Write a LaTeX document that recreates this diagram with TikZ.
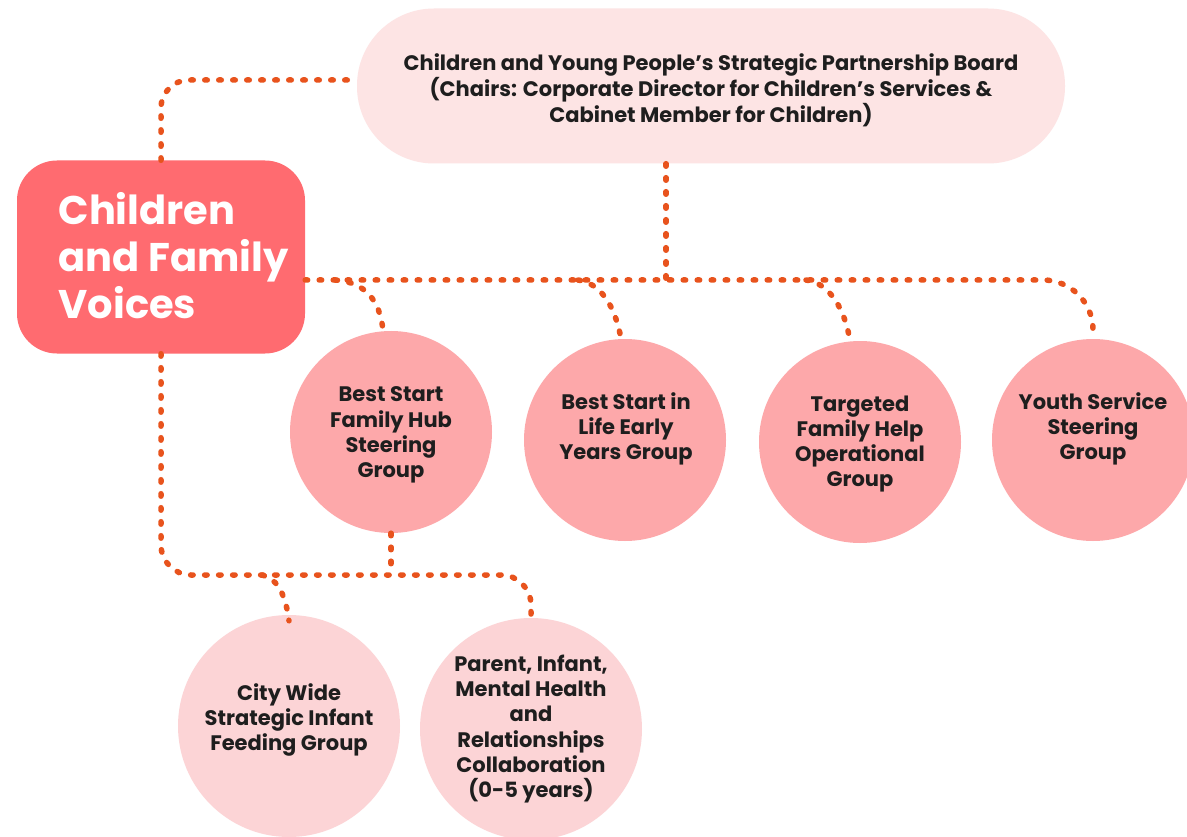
\documentclass[tikz,border=0pt]{standalone}
\usepackage{fontspec}
\setmainfont{Poppins}
\definecolor{boardpink}{HTML}{FDE4E4}
\definecolor{voicered}{HTML}{FF6B70}
\definecolor{midpink}{HTML}{FDA8AA}
\definecolor{lowpink}{HTML}{FCD4D6}
\definecolor{dotorange}{HTML}{E8531D}
\definecolor{ink}{HTML}{1E1E1E}
\tikzset{
  link/.style={draw=dotorange, line width=5.5pt, line cap=round,
    dash pattern=on 2.5pt off 11.5pt},
  group/.style={circle, minimum size=202pt, inner sep=0pt, fill=midpink},
  lowgroup/.style={group, minimum size=222pt, fill=lowpink},
  grouptext/.style={align=center, inner sep=0pt, text=ink,
    font=\fontsize{21}{25.2}\selectfont\bfseries},
}
\begin{document}
\begin{tikzpicture}[x=1pt,y=-1pt]
\useasboundingbox (0,0) rectangle (1187,837);
\fill[white] (0,0) rectangle (1187,837);

% partnership board
\node[rounded corners=77pt, fill=boardpink, minimum width=708pt, minimum height=155pt]
  (board) at (711,86) {};
\node[align=center, text=ink, font=\fontsize{21}{26}\selectfont\bfseries]
  (boardtext) at (711,90) {Children and Young People’s Strategic Partnership Board\\
  (Chairs: Corporate Director for Children’s Services \&\\ Cabinet Member for Children)};

% children and family voices
\node[rounded corners=40pt, fill=voicered, minimum width=288pt, minimum height=193pt]
  (voices) at (161,257) {};
\node[anchor=west, align=left, text=white, font=\fontsize{40}{47}\selectfont\bfseries]
  (voicestext) at (55,256) {Children\\and Family\\Voices};

% steering and working groups
\node[group] (hub) at (391,432) {};
\node[group] (life) at (625,440) {};
\node[group] (targeted) at (860,442) {};
\node[group] (youth) at (1093,440) {};
\node[lowgroup] (feeding) at (289,726) {};
\node[lowgroup] (pimh) at (531,729) {};
\node[grouptext] (hubtext) at (391,435) {Best Start\\Family Hub\\Steering\\Group};
\node[grouptext] (lifetext) at (626,429) {Best Start in\\Life Early\\Years Group};
\node[grouptext] (targetedtext) at (860,444) {Targeted\\Family Help\\Operational\\Group};
\node[grouptext] (youthtext) at (1093,429) {Youth Service\\Steering\\Group};
\node[grouptext] (feedingtext) at (289,720) {City Wide\\Strategic Infant\\Feeding Group};
\node[grouptext] (pimhtext) at (531,729) {Parent, Infant,\\Mental Health\\and\\Relationships\\Collaboration\\(0-5 years)};

% junction points
\coordinate (bus) at (666,280);
\coordinate (lowbus) at (391,575);
\coordinate (jhub) at (335,280);
\coordinate (jlife) at (578,280);
\coordinate (jtarg) at (806,280);
\coordinate (jfeed) at (262,575);

% connectors
\draw[link, rounded corners=28pt] (voices.north) -- (voices.north |- 0,80) -- (board.west |- 0,80);
\draw[link] (board.south -| bus) -- (bus);
\draw[link, rounded corners=50pt] (voices.east |- bus) -- (bus) -| (youth.north);
\draw[link] (jhub) .. controls (365,282) and (380,300) .. ([xshift=-8pt]hub.north);
\draw[link] (jlife) .. controls (600,283) and (615,305) .. ([xshift=-4pt]life.north);
\draw[link] (jtarg) .. controls (830,283) and (845,310) .. ([xshift=-10pt]targeted.north);
\draw[link, rounded corners=30pt] (voices.south) -- (voices.south |- lowbus) -- (pimh.north |- lowbus) -- (pimh.north);
\draw[link] (hub.south) -- (lowbus);
\draw[link] (jfeed) .. controls (275,578) and (285,590) .. ([yshift=-6pt]feeding.north);
\end{tikzpicture}
\end{document}
